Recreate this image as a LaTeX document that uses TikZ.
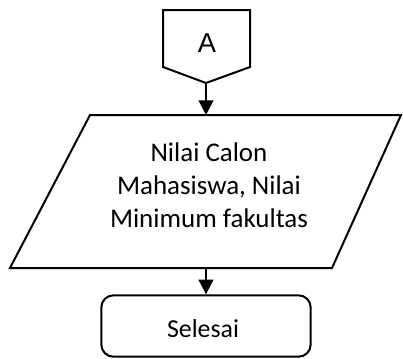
\documentclass[tikz,border=0pt]{standalone}
\usepackage{fontspec}
\setmainfont{Carlito}
\newfontfamily\arialfont{Liberation Sans}
\usetikzlibrary{arrows.meta}
\newlength\refwa
\newlength\refwb
\settowidth\refwa{\fontsize{20}{24}\selectfont Minimum fakultas}
\settowidth\refwb{\fontsize{20}{24}\selectfont Selesai}
\tikzset{
  shapeline/.style={draw=black, line width=1.5pt, line join=miter},
  flowarrow/.style={line width=1.5pt, -{Triangle[length=11pt,width=11pt]}},
}
\begin{document}
\begin{tikzpicture}[x=0.75pt,y=-0.75pt]
\pgfmathsetmacro\midsize{20*148.5/\refwa}
\pgfmathsetmacro\endsize{20*54/\refwb}
\useasboundingbox (0,0) rectangle (403,358);
% off-page connector A
\draw[shapeline] (163,10) -- (250,10) -- (250,67) -- (206,83) -- (163,67) -- cycle;
\node[font=\arialfont\fontsize{20.5}{24}\selectfont, inner sep=0pt, anchor=base] (A) at (207,52) {A};
\coordinate (Abot) at (206,83);
% input parallelogram
\draw[shapeline] (90,115) -- (401,115) -- (332,268) -- (10,268) -- cycle;
\coordinate (Ptop) at (206,115);
\coordinate (Pbot) at (206,268);
\node[font=\fontsize{\midsize}{24.4}\selectfont, align=center, inner sep=0pt, anchor=base] (input) at (209,227) {Nilai Calon\\Mahasiswa, Nilai\\Minimum fakultas};
% terminator
\node[shapeline, rounded corners=9pt, minimum width=157pt, minimum height=46pt, inner sep=0pt] (end) at (206,326) {};
\node[font=\fontsize{\endsize}{24}\selectfont, inner sep=0pt, anchor=base] (endtext) at (203,337) {Selesai};
% connectors
\draw[flowarrow] (Abot) -- (Ptop);
\draw[flowarrow] (Pbot) -- (end.north);
\end{tikzpicture}
\end{document}
